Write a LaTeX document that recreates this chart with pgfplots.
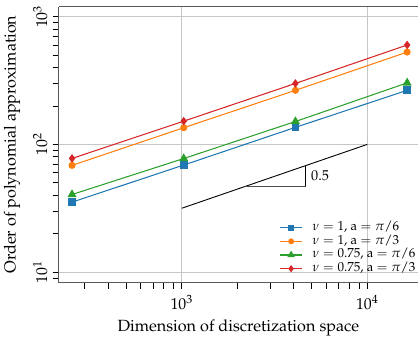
\documentclass[border=0pt]{standalone}
\usepackage[T1]{fontenc}
\usepackage{mathpazo}
\usepackage{pgfplots}
\pgfplotsset{compat=1.18}
\definecolor{tabblue}{HTML}{1F77B4}
\definecolor{taborange}{HTML}{FF7F0E}
\definecolor{tabgreen}{HTML}{2CA02C}
\definecolor{tabred}{HTML}{D62728}
\begin{document}
\begin{tikzpicture}
\begin{axis}[
  name=ax,
  scale only axis,
  width=239.5pt, height=183.87pt,
  xmode=log, ymode=log,
  xmin=217, xmax=18750, ymin=8.28, ymax=1197,
  axis x line=box, axis y line=left,
  axis line style={-, draw=black!65, line width=0.9pt},
  xtick pos=bottom, ytick pos=left,
  tick align=outside,
  major tick length=4pt, minor tick length=4pt,
  every tick/.style={black, line width=0.5pt},
  xmajorgrids, ymajorgrids,
  major grid style={draw=gray!45, line width=0.6pt},
  yticklabel style={rotate=90, anchor=south},
  xticklabel style={yshift=-1pt},
  xlabel={Dimension of discretization space},
  ylabel={Order of polynomial approximation},
  label style={font=\fontsize{10.8}{13}\selectfont},
  xlabel style={at={(axis description cs:0.5,-0.165)}, anchor=center},
  ylabel style={at={(axis description cs:-0.1299,0.5)}, anchor=center},
  tick label style={font=\fontsize{10.5}{12.5}\selectfont},
  legend style={at={(1,0.0256)}, anchor=south east, draw=none, fill=none, inner sep=0pt,
    font=\fontsize{8.7}{10}\selectfont, row sep=0.4pt,
    nodes={inner ysep=0pt, inner xsep=1.5pt, text height=6.3pt, text depth=2.4pt},
    /tikz/every odd column/.append style={column sep=5pt}},
  legend cell align=left,
  legend image code/.code={\draw[mark repeat=2, mark phase=2] plot coordinates {(0pt,0pt) (7.4pt,0pt) (14.8pt,0pt)};},
  legend image post style={/tikz/every mark/.append style={scale=0.8}},
]
\addplot[tabblue, line width=0.7pt, mark=square*, mark size=2.2pt, mark options={solid}] coordinates {(256,35.3) (1024,68.9) (4096,135.9) (16384,265)};
\addlegendentry{$\nu = 1$, a $= \pi/6$}
\addplot[taborange, line width=0.7pt, mark=*, mark size=2pt] coordinates {(256,68.5) (1024,135) (4096,265) (16384,528)};
\addlegendentry{$\nu = 1$, a $= \pi/3$}
\addplot[tabgreen, line width=0.7pt, mark=triangle*, mark size=2.8pt] coordinates {(256,40.5) (1024,77.5) (4096,151) (16384,303)};
\addlegendentry{$\nu = 0.75$, a $= \pi/6$}
\addplot[tabred, line width=0.7pt, mark=diamond*, mark size=2.3pt] coordinates {(256,77.6) (1024,152) (4096,300) (16384,600)};
\addlegendentry{$\nu = 0.75$, a $= \pi/3$}
\addplot[black, line width=0.6pt, forget plot] coordinates {(1000,31.62) (10000,100)};
\addplot[black!70, line width=1pt, forget plot] coordinates {(2193,46.8) (4660,46.8)};
\addplot[black, line width=0.7pt, forget plot] coordinates {(4660,46.8) (4660,68.3)};
\node[anchor=west, font=\fontsize{9.5}{11}\selectfont] at (axis cs:4660,57) {0.5};
\end{axis}
\pgfresetboundingbox
\path[use as bounding box] ([xshift=-39.13pt, yshift=-36.33pt]ax.south west) rectangle ([yshift=4.47pt]ax.north east);
\end{tikzpicture}
\end{document}
